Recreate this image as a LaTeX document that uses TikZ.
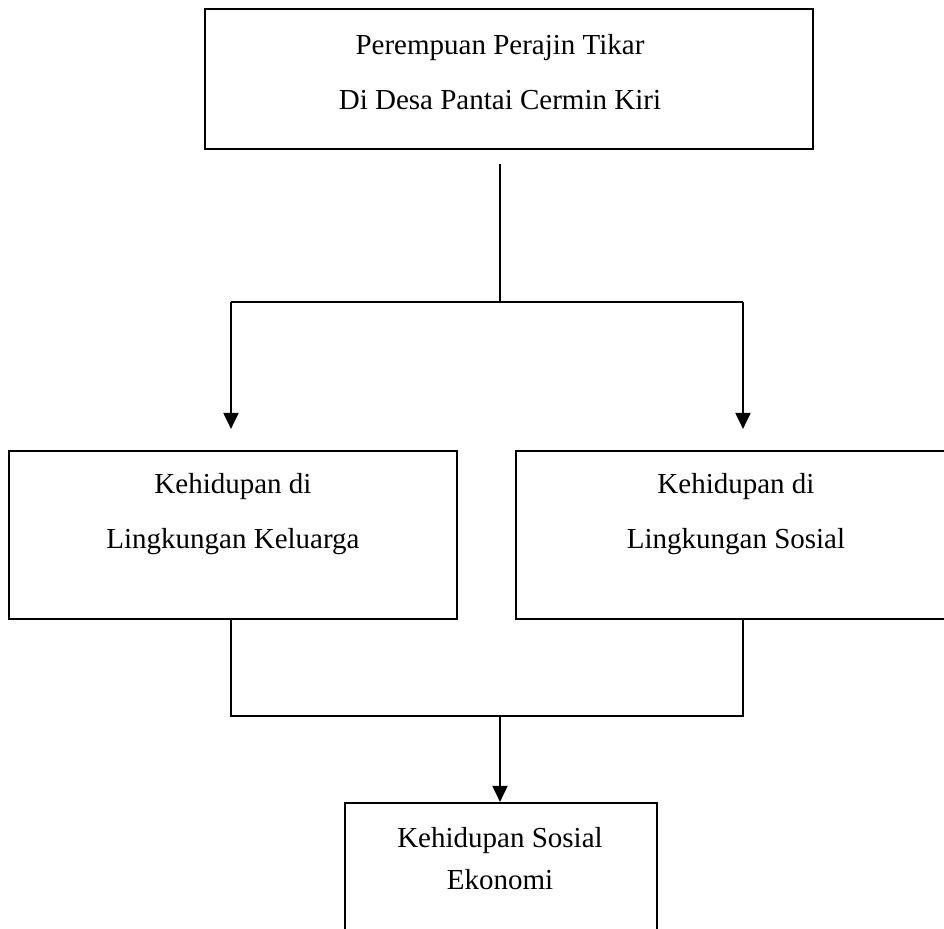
\documentclass[tikz,border=0pt]{standalone}
\usepackage{fontspec}
\setmainfont{Liberation Serif}
\usetikzlibrary{arrows.meta}
\begin{document}
\begin{tikzpicture}[x=0.5pt, y=-0.5pt, >={Triangle[length=8pt,width=7.5pt]},
  box/.style={draw, line width=1.1pt, inner sep=0pt},
  txt/.style={align=center, inner sep=0pt, font=\fontsize{14.5}{17.4}\selectfont},
  link/.style={line width=1pt}]
  \clip (0,0) rectangle (944,928);
  % Top box
  \node[box, minimum width=304pt, minimum height=70pt] (top) at (509,79) {};
  \node[txt] (toptext) at (500,72) {Perempuan Perajin Tikar\\[10pt]Di Desa Pantai Cermin Kiri};
  % Middle boxes
  \node[box, minimum width=224pt, minimum height=84pt] (left) at (233,535) {};
  \node[txt] (lefttext) at (233,514) {Kehidupan di\\[10pt]Lingkungan Keluarga};
  \node[box, minimum width=224pt, minimum height=84pt] (right) at (740,535) {};
  \node[txt] (righttext) at (736,514) {Kehidupan di\\[10pt]Lingkungan Sosial};
  % Bottom box
  \node[box, minimum width=156pt, minimum height=80pt] (result) at (501,883) {};
  \node[txt] (resulttext) at (500,859) {Kehidupan Sosial\\[3.6pt]Ekonomi};
  % Split from top box
  \coordinate (split) at (500,302);
  \coordinate (jl) at (231,302);
  \coordinate (jr) at (743,302);
  \draw[link, shorten <=7pt] (top.south -| split) -- (split);
  \draw[link] (jl) -- (jr);
  \draw[link, ->, shorten >=10.5pt] (jl) -- (jl |- left.north);
  \draw[link, ->, shorten >=10.5pt] (jr) -- (jr |- right.north);
  % Merge into bottom box
  \coordinate (ml) at (231,716);
  \coordinate (mr) at (743,716);
  \coordinate (merge) at (500,716);
  \draw[link] (left.south -| ml) -- (ml) -- (mr) -- (right.south -| mr);
  \draw[link, ->] (merge) -- (merge |- result.north);
\end{tikzpicture}
\end{document}
